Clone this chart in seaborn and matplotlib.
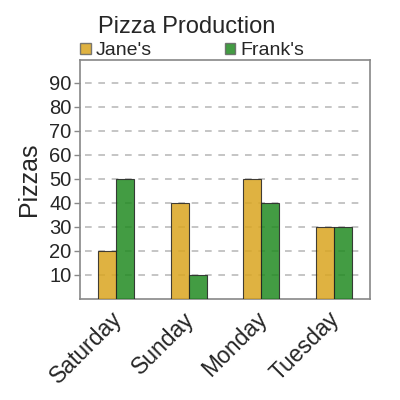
import matplotlib
matplotlib.use("Agg")
import matplotlib.pyplot as plt
import seaborn as sns
import pandas as pd
from matplotlib.patches import Patch

days = ["Saturday", "Sunday", "Monday", "Tuesday"]
jane = [20, 40, 50, 30]
frank = [50, 10, 40, 30]
series = ["Jane's", "Frank's"]
yticks = [10, 20, 30, 40, 50, 60, 70, 80, 90]

df = pd.DataFrame({
    "day": days * 2,
    "pizzas": jane + frank,
    "who": [series[0]] * len(days) + [series[1]] * len(days),
})

sns.set_style("white")
plt.rcParams["font.family"] = ["Liberation Sans", "DejaVu Sans"]

colors = {"Jane's": "#DAA520", "Frank's": "#228B22"}

fig = plt.figure(figsize=(4, 4), dpi=100)
ax = fig.add_axes([0.2, 0.2525, 0.725, 0.5975])

sns.barplot(data=df, x="day", y="pizzas", hue="who", palette=colors,
            width=0.5, alpha=0.85, saturation=1, edgecolor="#222222", linewidth=0.8,
            ax=ax, legend=False, zorder=3)

ax.set_ylim(0, 99.5)
ax.set_xlim(-0.5, 3.5)
ax.set_yticks(yticks)
ax.set_yticklabels([str(v) for v in yticks], fontsize=14.5)
for v in yticks:
    ax.plot([-0.43, 3.43], [v, v], linestyle=(0, (4, 4)), color="#bbbbbb",
            linewidth=1.2, zorder=1)
ax.tick_params(axis="y", left=True, length=4, width=1, color="#888888", pad=2)
ax.tick_params(axis="x", bottom=False, pad=2)
ax.set_xticks(range(len(days)))
ax.set_xticklabels(days, rotation=45, ha="right", rotation_mode="anchor", fontsize=16.5)
for lbl in ax.get_xticklabels():
    lbl.set_transform(lbl.get_transform() + matplotlib.transforms.ScaledTranslation(-4/72, -0.5/72, fig.dpi_scale_trans))
ax.set_xlabel("")
ax.set_ylabel("Pizzas", fontsize=18, labelpad=6)
for s in ax.spines.values():
    s.set_color("#888888")
    s.set_linewidth(1.2)

fig.text(0.4675, 0.932, "Pizza Production", ha="center", va="center", fontsize=17)

handles = [Patch(facecolor=colors[s], edgecolor="#666666", alpha=0.85) for s in series]
fig.legend(handles, series, loc="center left", bbox_to_anchor=(0.2, 0.873),
           ncol=2, frameon=False, fontsize=14, handlelength=0.55, handleheight=0.55,
           handletextpad=0.25, columnspacing=3.75, borderaxespad=0, borderpad=0)

fig.savefig("out.png", dpi=100)
